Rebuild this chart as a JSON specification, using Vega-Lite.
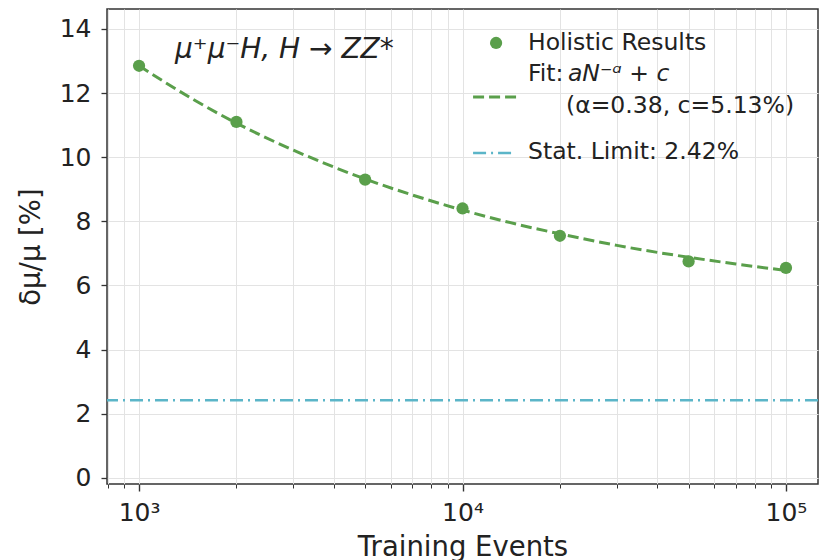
{
  "$schema": "https://vega.github.io/schema/vega-lite/v6.json",
  "width": 711,
  "height": 475,
  "autosize": {"type": "none"},
  "padding": {"left": 107, "top": 9, "right": 5, "bottom": 76},
  "background": "white",
  "config": {
    "font": "DejaVu Sans",
    "view": {"stroke": "#333333", "strokeWidth": 1.5},
    "axis": {
      "labelFont": "DejaVu Sans",
      "titleFont": "DejaVu Sans",
      "labelFontSize": 25,
      "titleFontSize": 27.5,
      "titleFontWeight": "normal",
      "labelColor": "#222222",
      "titleColor": "#222222",
      "gridColor": "#e3e3e3",
      "gridWidth": 1,
      "domain": false,
      "tickColor": "#333333"
    }
  },
  "datasets": {
    "results": [
      {"N": 1000, "err": 12.85},
      {"N": 2000, "err": 11.1},
      {"N": 5000, "err": 9.3},
      {"N": 10000, "err": 8.4},
      {"N": 20000, "err": 7.55},
      {"N": 50000, "err": 6.75},
      {"N": 100000, "err": 6.55}
    ],
    "fit": [
      {"N": 1000, "err": 12.85},
      {"N": 1500, "err": 11.75},
      {"N": 2000, "err": 11.06},
      {"N": 3000, "err": 10.22},
      {"N": 5000, "err": 9.32},
      {"N": 7000, "err": 8.82},
      {"N": 10000, "err": 8.35},
      {"N": 15000, "err": 7.89},
      {"N": 20000, "err": 7.61},
      {"N": 30000, "err": 7.25},
      {"N": 50000, "err": 6.88},
      {"N": 70000, "err": 6.67},
      {"N": 100000, "err": 6.47}
    ],
    "stat": [{"limit": 2.42}],
    "one": [{}]
  },
  "layer": [
    {
      "data": {"name": "stat"},
      "mark": {"type": "rule", "color": "#5bb5c8", "strokeWidth": 2.5, "strokeDash": [13, 5, 2, 5]},
      "encoding": {
        "y": {
          "field": "limit",
          "type": "quantitative",
          "scale": {"domain": [-0.19, 14.62], "nice": false, "zero": false},
          "axis": {
            "values": [0, 2, 4, 6, 8, 10, 12, 14],
            "title": "δμ/μ [%]",
            "titlePadding": 14,
            "labelPadding": 10,
            "tickSize": 6,
            "tickWidth": 1.3
          }
        }
      }
    },
    {
      "data": {"name": "fit"},
      "mark": {"type": "line", "color": "#5a9f4b", "strokeWidth": 3, "strokeDash": [11, 5], "interpolate": "monotone"},
      "encoding": {
        "x": {
          "field": "N",
          "type": "quantitative",
          "scale": {"type": "log", "domain": [796, 125600], "nice": false},
          "axis": {
            "values": [800, 900, 1000, 2000, 3000, 4000, 5000, 6000, 7000, 8000, 9000, 10000, 20000, 30000, 40000, 50000, 60000, 70000, 80000, 90000, 100000],
            "labelExpr": "datum.value == 1000 ? '10³' : datum.value == 10000 ? '10⁴' : datum.value == 100000 ? '10⁵' : ''",
            "title": "Training Events",
            "titlePadding": 8,
            "labelPadding": 9,
            "labelFlush": false,
            "labelOverlap": false,
            "tickSize": {"condition": {"test": "indexof([1000,10000,100000], datum.value) >= 0", "value": 7}, "value": 4},
            "tickWidth": {"condition": {"test": "indexof([1000,10000,100000], datum.value) >= 0", "value": 1.4}, "value": 1}
          }
        },
        "y": {"field": "err", "type": "quantitative"}
      }
    },
    {
      "data": {"name": "results"},
      "mark": {"type": "circle", "color": "#5a9f4b", "opacity": 1, "size": 150},
      "encoding": {
        "x": {"field": "N", "type": "quantitative"},
        "y": {"field": "err", "type": "quantitative"}
      }
    },
    {
      "data": {"name": "one"},
      "mark": {"type": "text", "text": "μ⁺μ⁻H, H → ZZ*", "fontSize": 28, "fontStyle": "italic", "align": "left", "baseline": "middle", "color": "#222222"},
      "encoding": {"x": {"datum": 1292}, "y": {"datum": 13.35}}
    },
    {
      "data": {"name": "one"},
      "mark": {"type": "circle", "color": "#5a9f4b", "opacity": 1, "size": 150},
      "encoding": {"x": {"datum": 12700}, "y": {"datum": 13.56}}
    },
    {
      "data": {"name": "one"},
      "mark": {"type": "text", "text": "Holistic Results", "fontSize": 23.5, "align": "left", "baseline": "middle", "color": "#222222"},
      "encoding": {"x": {"datum": 15940}, "y": {"datum": 13.56}}
    },
    {
      "data": {"name": "one"},
      "mark": {"type": "rule", "color": "#5a9f4b", "strokeWidth": 3, "strokeDash": [11, 5]},
      "encoding": {"x": {"datum": 10780}, "x2": {"datum": 14640}, "y": {"datum": 11.88}}
    },
    {
      "data": {"name": "one"},
      "mark": {"type": "text", "text": "Fit:", "fontSize": 23.5, "align": "left", "baseline": "middle", "color": "#222222"},
      "encoding": {"x": {"datum": 15940}, "y": {"datum": 12.6}}
    },
    {
      "data": {"name": "one"},
      "mark": {"type": "text", "text": "aN⁻ᵅ + c", "fontSize": 23.5, "fontStyle": "italic", "align": "left", "baseline": "middle", "color": "#222222"},
      "encoding": {"x": {"datum": 21180}, "y": {"datum": 12.6}}
    },
    {
      "data": {"name": "one"},
      "mark": {"type": "text", "text": "(α=0.38, c=5.13%)", "fontSize": 23.5, "align": "left", "baseline": "middle", "color": "#222222"},
      "encoding": {"x": {"datum": 20890}, "y": {"datum": 11.6}}
    },
    {
      "data": {"name": "one"},
      "mark": {"type": "rule", "color": "#5bb5c8", "strokeWidth": 2.5, "strokeDash": [13, 5, 2, 5]},
      "encoding": {"x": {"datum": 10780}, "x2": {"datum": 14640}, "y": {"datum": 10.13}}
    },
    {
      "data": {"name": "one"},
      "mark": {"type": "text", "text": "Stat. Limit: 2.42%", "fontSize": 23.5, "align": "left", "baseline": "middle", "color": "#222222"},
      "encoding": {"x": {"datum": 15940}, "y": {"datum": 10.15}}
    }
  ]
}
